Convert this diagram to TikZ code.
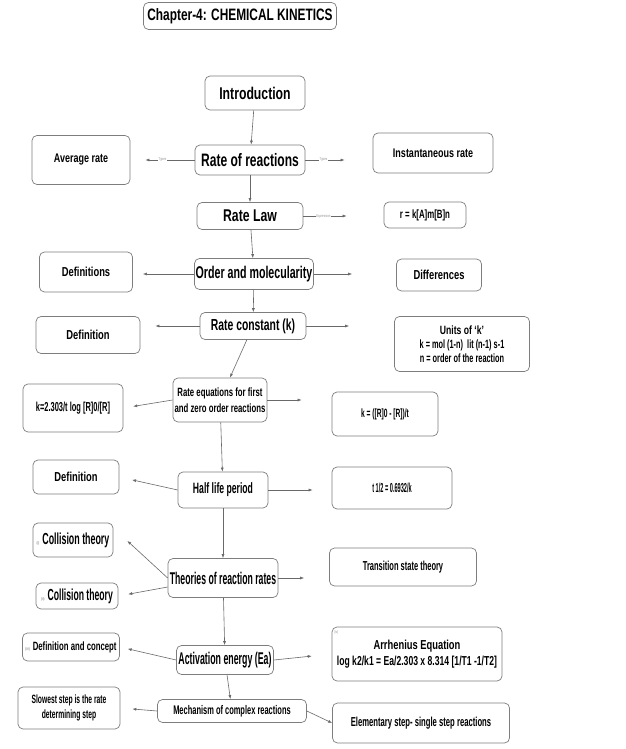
\documentclass[tikz,border=0pt]{standalone}
\usepackage{fontspec,graphicx}
\setmainfont{Liberation Sans}[FakeStretch=0.72]
\usetikzlibrary{arrows.meta}
\definecolor{kinline}{RGB}{105,105,105}
\definecolor{kinedge}{RGB}{125,125,125}
\definecolor{kinmark}{RGB}{150,150,150}
\newcommand{\kfs}[2]{\fontsize{#1}{#2}\selectfont}
\newcommand{\kx}[2]{\scalebox{#1}[1]{#2}}

\begin{document}
\begin{tikzpicture}[x=1pt,y=-1pt,>={Latex[length=4pt,width=3pt]},
  box/.style={draw=kinedge,rounded corners=5pt,align=center,inner sep=1pt,font=\bfseries,line width=0.7pt},
  link/.style={draw=kinline,line width=0.6pt,->},
  tag/.style={font=\kfs{4}{4},text=kinmark,fill=white,inner sep=0.5pt}]
\useasboundingbox[fill=white] (0,0) rectangle (625,749);
% heading
\node[box,minimum width=193pt,minimum height=27pt] (title) at (240,16) {\kfs{16.5}{18}Chapter-4: CHEMICAL KINETICS};
% main column
\node[box,minimum width=100pt,minimum height=34pt] (intro) at (255,93) {\kfs{17}{19}Introduction};
\node[box,minimum width=110pt,minimum height=30pt] (ror) at (250,160) {\kfs{18}{20}\kx{0.93}{Rate of reactions}};
\node[box,minimum width=106pt,minimum height=27pt] (law) at (250,216) {\kfs{17}{19}Rate Law};
\node[box,minimum width=119pt,minimum height=31pt] (order) at (254,274) {\kfs{17}{19}\kx{0.87}{Order and molecularity}};
\node[box,minimum width=106pt,minimum height=27pt] (rc) at (253,326) {\kfs{16}{18}\kx{0.9}{Rate constant (k)}};
\node[box,minimum width=94pt,minimum height=44pt,font=\bfseries\kfs{12}{16}] (re) at (220,400) {\kx{0.9}{Rate equations for first}\\\kx{0.9}{and zero order reactions}};
\node[box,minimum width=90pt,minimum height=36pt] (half) at (223,490) {\kfs{15}{17}\kx{0.8}{Half life period}};
\node[box,minimum width=110pt,minimum height=39pt] (theo) at (223,578) {\kfs{17}{19}\kx{0.71}{Theories of reaction rates}};
\node[box,minimum width=97pt,minimum height=29pt] (ea) at (225,660) {\kfs{17}{19}\kx{0.72}{Activation energy (Ea)}};
\node[box,minimum width=149pt,minimum height=23pt] (mech) at (232,711) {\kfs{12.5}{14}\kx{0.83}{Mechanism of complex reactions}};
% left column
\node[box,minimum width=98pt,minimum height=49pt] (avg) at (81,160) {\kfs{12.5}{14}Average rate};
\node[box,minimum width=93pt,minimum height=40pt] (defs) at (86,272) {\kfs{13}{15}Definitions};
\node[box,minimum width=104pt,minimum height=37pt] (def1) at (88,335) {\kfs{13}{15}Definition};
\node[box,minimum width=100pt,minimum height=48pt] (kone) at (73,408) {\kfs{13}{15}\kx{0.8}{k=2.303/t log [R]0/[R]}};
\node[box,minimum width=86pt,minimum height=34pt] (def2) at (76,477) {\kfs{13}{15}Definition};
\node[box,minimum width=80pt,minimum height=34pt] (col1) at (73,540) {{\color{kinmark}\kfs{4}{4}(i)}\hspace{3pt}\kfs{16}{18}\kx{0.77}{Collision theory}};
\node[box,minimum width=82pt,minimum height=26pt] (col2) at (77,596) {{\color{kinmark}\kfs{4}{4}(ii)}\hspace{3pt}\kfs{16}{18}\kx{0.75}{Collision theory}};
\node[box,minimum width=97pt,minimum height=28pt] (dc) at (71,647) {{\color{kinmark}\kfs{4}{4}(iii)}\hspace{3pt}\kfs{12}{14}\kx{0.9}{Definition and concept}};
\node[box,minimum width=102pt,minimum height=42pt,font=\bfseries\kfs{12}{15}] (slow) at (69,708) {\kx{0.78}{Slowest step is the rate}\\\kx{0.78}{determining step}};
% right column
\node[box,minimum width=120pt,minimum height=40pt] (inst) at (433,153) {\kfs{12.5}{14}Instantaneous rate};
\node[box,minimum width=82pt,minimum height=26pt] (expr) at (425,215) {\kfs{12}{14}\kx{0.91}{r = k[A]m[B]n}};
\node[box,minimum width=85pt,minimum height=32pt] (diff) at (439,275) {\kfs{13}{15}Differences};
\node[box,minimum width=135pt,minimum height=55pt,font=\bfseries\kfs{12}{14}] (units) at (462,344) {Units of `k'\\\kx{0.85}{k = mol (1-n)\ \ lit (n-1) s-1}\\\kx{0.85}{n = order of the reaction}};
\node[box,minimum width=106pt,minimum height=44pt] (kzero) at (385,414) {\kfs{12}{14}\kx{0.77}{k = ([R]0 - [R])/t}};
\node[box,minimum width=120pt,minimum height=42pt] (thalf) at (392,488) {\kfs{13}{15}\kx{0.6}{t 1/2 = 0.6932/k}};
\node[box,minimum width=147pt,minimum height=38pt] (ts) at (403,567) {\kfs{13}{15}\kx{0.8}{Transition state theory}};
\node[box,minimum width=170pt,minimum height=54pt,font=\bfseries\kfs{13}{16},label={[tag,anchor=north west,xshift=2pt,yshift=-3pt]north west:(iv)}] (arr) at (417,654) {Arrhenius Equation\\\kx{0.92}{log k2/k1 = Ea/2.303 x 8.314 [1/T1 -1/T2]}};
\node[box,minimum width=177pt,minimum height=40pt] (elem) at (421,723) {\kfs{13}{15}\kx{0.82}{Elementary step- single step reactions}};
% spine
\draw[link] (intro) -- (ror);
\draw[link] (ror) -- (law);
\draw[link] (law) -- (order);
\draw[link] (order) -- (rc);
\draw[link] (rc) -- (re);
\draw[link] (re) -- (half);
\draw[link] (half) -- (theo);
\draw[link] (theo) -- (ea);
\draw[link] (ea) -- (mech);
% branches
\draw[link,shorten >=15pt] (ror.west) -- (ror.west -| avg.east) node[tag,pos=0.5] {Types};
\draw[link,shorten >=28pt] (ror.east) -- (ror.east -| inst.west) node[tag,pos=0.27] {Types};
\draw[link,shorten >=37pt] (law.east) -- (law.east -| expr.west) node[tag,pos=0.25] {Expression};
\draw[link,shorten >=10pt] (order.west) -- (order.west -| defs.east);
\draw[link,shorten >=44pt] (order.east) -- (order.east -| diff.west);
\draw[link,shorten >=15pt] (rc.west) -- (rc.west -| def1.east);
\draw[link,shorten >=45pt] (rc.east) -- (rc.east -| units.west);
\draw[link,shorten >=10pt] (re.west) -- (kone.east);
\draw[link,shorten >=30pt] (re.east) -- (re.east -| kzero.west);
\draw[link,shorten >=13pt] (half.west) -- (def2.east);
\draw[link,shorten >=19pt] (half.east) -- (half.east -| thalf.west);
\draw[link,shorten >=19pt] (theo.west) -- ([yshift=12pt]col1.east);
\draw[link,shorten >=10pt] ([yshift=-9pt]theo.west) -- (col2.east);
\draw[link,shorten >=25pt] (theo.east) -- (theo.east -| ts.west);
\draw[link,shorten >=8pt] (ea.west) -- (dc.east);
\draw[link,shorten >=20pt] (ea.east) -- (arr.west);
\draw[link,shorten >=12pt] (mech.west) -- (slow.east);
\draw[link] (mech.east) -- (elem.west);
\end{tikzpicture}
\end{document}
